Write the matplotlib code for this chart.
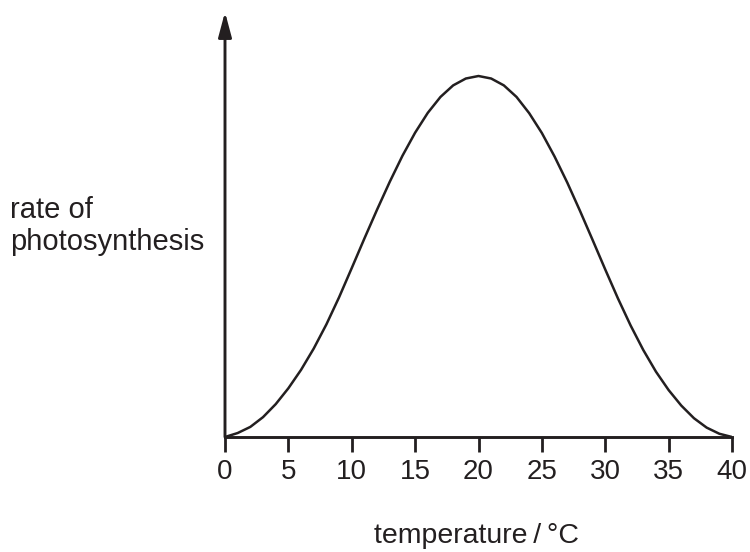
import numpy as np
import matplotlib
matplotlib.use('Agg')
import matplotlib.pyplot as plt

plt.rcParams['font.family'] = ['Liberation Sans', 'DejaVu Sans']

# readings (rate relative to peak), one per degree
temperature = list(range(0, 41))
rate = [0.000, 0.011, 0.028, 0.055, 0.091, 0.135, 0.186, 0.245, 0.312, 0.387,
        0.468, 0.550, 0.630, 0.707, 0.779, 0.843, 0.898, 0.942, 0.974, 0.993,
        1.000, 0.993, 0.974, 0.942, 0.897, 0.842, 0.777, 0.705, 0.627, 0.546,
        0.464, 0.384, 0.309, 0.241, 0.181, 0.130, 0.087, 0.052, 0.026, 0.009,
        0.000]
xticks = [0, 5, 10, 15, 20, 25, 30, 35, 40]
INK = '#231f20'

fig = plt.figure(figsize=(7.5, 5.52), dpi=100)
ax = fig.add_axes([225/750, (552-437)/552, 507/750, 425/552])
ax.plot(temperature, rate, color=INK, lw=1.8,
        solid_capstyle='round', solid_joinstyle='round')
ax.set_xlim(0, 40)
ax.set_ylim(0, 425/361)

for s in ['top', 'right', 'left']:
    ax.spines[s].set_visible(False)
ax.spines['bottom'].set_linewidth(2.1)
ax.spines['bottom'].set_color(INK)

# y axis drawn as an arrow
ax.annotate('', xy=(0, 1), xycoords='axes fraction', xytext=(0, 0),
            textcoords='axes fraction',
            arrowprops=dict(arrowstyle='-|>,head_length=1.5,head_width=0.4',
                            color=INK, lw=2.1, shrinkA=0, shrinkB=0))

ax.set_yticks([])
ax.set_xticks(xticks)
ax.set_xticklabels([str(t) for t in xticks], fontsize=20, color=INK)
ax.tick_params(axis='x', direction='out', length=11, width=2.0,
               color=INK, pad=5)

fig.text(477/750, 1 - 543/552, 'temperature\u2009/\u2009°C', fontsize=20.5,
         ha='center', va='baseline', color=INK)
fig.text(10/750, 1 - 218/552, 'rate of', fontsize=21,
         ha='left', va='baseline', color=INK)
fig.text(10/750, 1 - 250/552, 'photosynthesis', fontsize=21,
         ha='left', va='baseline', color=INK)

fig.savefig('out.png', dpi=100)
